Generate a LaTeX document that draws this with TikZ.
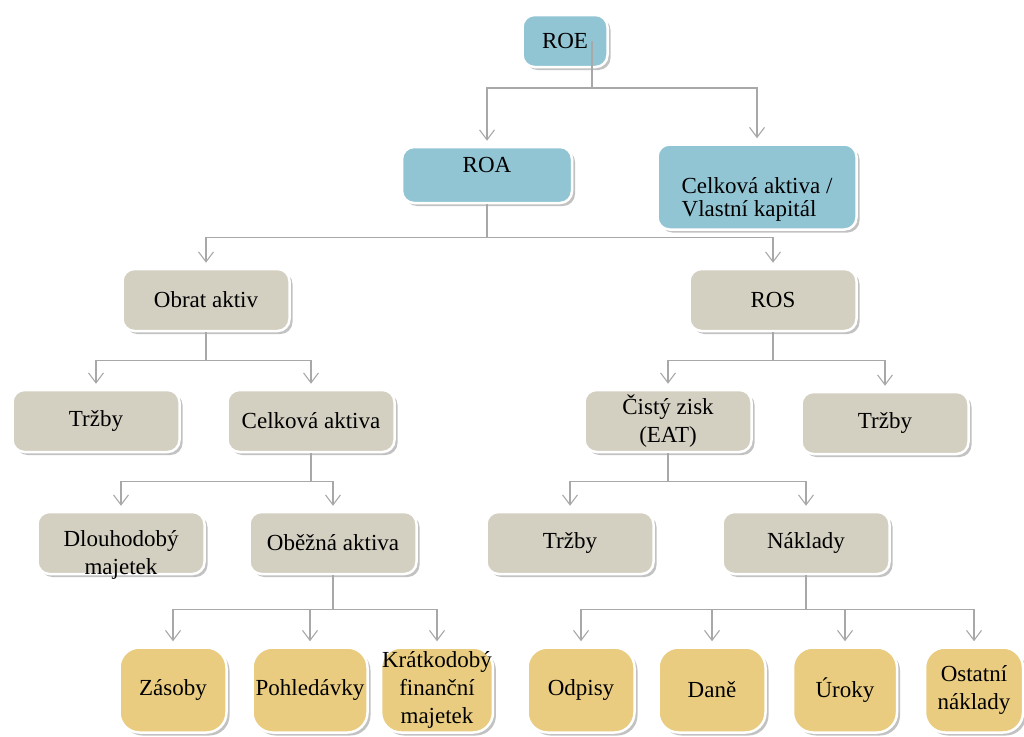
\documentclass[tikz,border=0pt]{standalone}
\usepackage{fontspec}
\setmainfont{Liberation Serif}
\usetikzlibrary{arrows.meta,shadows}
\definecolor{roeblue}{RGB}{146,197,212}
\definecolor{rostan}{RGB}{211,207,193}
\definecolor{leafgold}{RGB}{233,204,128}
\definecolor{linegray}{RGB}{168,168,168}

\begin{document}
\begin{tikzpicture}[x=1pt,y=-1pt]
		\tikzset{box/.style = {rectangle, rounded corners=12pt, draw=white, line width=2.5pt,
				inner sep=1pt, minimum width=167pt, minimum height=62pt, align=center,
				font=\fontsize{23}{28}\selectfont,
				drop shadow={shadow xshift=3pt, shadow yshift=-3pt, fill=black!40, opacity=0.6}}}
		\tikzset{topbox/.style = {box, fill=roeblue}}
		\tikzset{midbox/.style = {box, fill=rostan}}
		\tikzset{leafbox/.style = {box, fill=leafgold, rounded corners=20pt, minimum width=107pt, minimum height=85pt}}
		\tikzset{edge/.style = {-{Straight Barb[length=10pt,width=15pt]}, draw=linegray, line width=1.1pt, shorten >=5pt}}
		
		\useasboundingbox (0,0) rectangle (1024,736);
		
		\node[topbox, minimum width=85pt, minimum height=52pt]   (1) at ( 565,  41) {ROE};
		\node[topbox, minimum width=170pt, minimum height=56pt]  (2) at ( 487, 175) {ROA\rule[-20pt]{0pt}{20pt}};
		\node[topbox, minimum width=199pt, minimum height=85pt, align=left,
		      font=\fontsize{23}{23}\selectfont]                 (3) at ( 757, 187) {\rule{0pt}{40pt}Celková aktiva /\\ Vlastní kapitál};
		
		\node[midbox]  (4) at ( 206, 300) {Obrat aktiv};
		\node[midbox]  (5) at ( 773, 300) {ROS};
		
		\node[midbox]  (6) at (  96, 421) {Tržby};
		\node[midbox]  (7) at ( 311, 421) {Celková aktiva};
		\node[midbox]  (8) at ( 668, 421) {Čistý zisk\\(EAT)};
		\node[midbox]  (9) at ( 885, 423) {Tržby};
		
		\node[midbox] (10) at ( 121, 543) {\raisebox{-18pt}[0pt][0pt]{\begin{tabular}{@{}c@{}}Dlouhodobý\\majetek\end{tabular}}};
		\node[midbox] (11) at ( 333, 543) {Oběžná aktiva};
		\node[midbox] (12) at ( 570, 543) {Tržby};
		\node[midbox] (13) at ( 806, 543) {Náklady};
		
		\node[leafbox] (14) at ( 173, 690) {Zásoby};
		\node[leafbox, minimum width=115pt] (15) at ( 310, 690) {Pohledávky};
		\node[leafbox] (16) at ( 437, 690) {Krátkodobý\\finanční\\majetek};
		\node[leafbox] (17) at ( 581, 690) {Odpisy};
		\node[leafbox] (18) at ( 712, 690) {Daně};
		\node[leafbox, minimum width=104pt] (19) at ( 845, 690) {Úroky};
		\node[leafbox, minimum width=98pt]  (20) at ( 974, 690) {Ostatní\\náklady};
		
		\draw[edge] ([xshift=27pt]1.center) -- ++(0,47) -| (2);
		\draw[edge] ([xshift=27pt]1.center) -- ++(0,47) -| (3);
		
		\draw[edge] (2.south) -- ++(0,33) -| (4);
		\draw[edge] (2.south) -- ++(0,33) -| (5);
		
		\draw[edge] (4.south) -- ++(0,28) -| (6);
		\draw[edge] (4.south) -- ++(0,28) -| (7);
		\draw[edge] (5.south) -- ++(0,28) -| (8);
		\draw[edge] (5.south) -- ++(0,28) -| (9);
		
		\draw[edge] (7.south) -- ++(0,28) -| (10);
		\draw[edge] (7.south) -- ++(0,28) -| (11);
		\draw[edge] (8.south) -- ++(0,28) -| (12);
		\draw[edge] (8.south) -- ++(0,28) -| (13);
		
		\draw[edge] (11.south) -- ++(0,34) -| (14);
		\draw[edge] (11.south) -- ++(0,34) -| (15);
		\draw[edge] (11.south) -- ++(0,34) -| (16);
		\draw[edge] (13.south) -- ++(0,34) -| (17);
		\draw[edge] (13.south) -- ++(0,34) -| (18);
		\draw[edge] (13.south) -- ++(0,34) -| (19);
		\draw[edge] (13.south) -- ++(0,34) -| (20);
\end{tikzpicture}
\end{document}
